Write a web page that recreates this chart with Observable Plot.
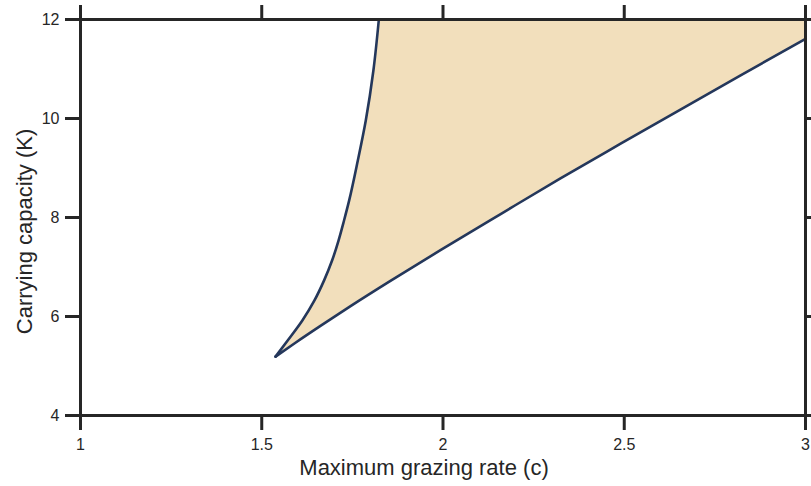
<!DOCTYPE html>
<html>
<head>
<meta charset="utf-8">
<script src="https://cdn.jsdelivr.net/npm/d3@7"></script>
<script src="https://cdn.jsdelivr.net/npm/@observablehq/plot@0.6"></script>
<style>
  html, body { margin: 0; padding: 0; background: #fff; }
</style>
</head>
<body>
<div id="chart"></div>
<script>
// Axis setup
const xDomain = [1, 3];
const yDomain = [4, 12];
const xTicks = [1, 1.5, 2, 2.5, 3];
const yTicks = [4, 6, 8, 10, 12];
const xLabel = "Maximum grazing rate (c)";
const yLabel = "Carrying capacity (K)";

// Upper (steep) fold branch: c, K
const upperC = [1.538, 1.572, 1.612, 1.645, 1.672, 1.694, 1.712, 1.727, 1.741, 1.765, 1.787, 1.808, 1.823];
const upperK = [5.19, 5.52, 5.92, 6.32, 6.73, 7.13, 7.54, 7.94, 8.34, 9.15, 9.96, 10.97, 12.0];

// Lower (shallow) fold branch: c, K
const lowerC = [1.538, 1.593, 1.662, 1.745, 1.855, 1.993, 2.159, 2.324, 2.490, 2.655, 2.821, 3.0];
const lowerK = [5.19, 5.47, 5.81, 6.21, 6.72, 7.34, 8.07, 8.79, 9.49, 10.18, 10.87, 11.61];

const upper = upperC.map((c, i) => ({c, K: upperK[i]}));
const lower = lowerC.map((c, i) => ({c, K: lowerK[i]}));
// Polygon of the bistable region (between branches, clipped by the top of the frame)
const region = [
  ...upper,
  {c: xDomain[1], K: yDomain[1]},
  ...lower.slice().reverse()
];

const ink = "#262626";
const lineColor = "#24375b";
const fillColor = "#f2dfbc";
const fmt = d => String(d);

const chart = Plot.plot({
  width: 811,
  height: 486,
  marginLeft: 80,
  marginRight: 6,
  marginTop: 19,
  marginBottom: 71,
  style: {fontFamily: "'Liberation Sans', Arial, Helvetica, sans-serif", fontSize: "16px", background: "#fff", color: ink},
  x: {domain: xDomain},
  y: {domain: yDomain},
  marks: [
    Plot.line(region, {x: "c", y: "K", fill: fillColor, stroke: "none", curve: "linear"}),
    Plot.line(upper, {x: "c", y: "K", stroke: lineColor, strokeWidth: 2.6, curve: "monotone-y", clip: true}),
    Plot.line(lower, {x: "c", y: "K", stroke: lineColor, strokeWidth: 2.6, curve: "monotone-x", clip: true}),
    Plot.frame({stroke: ink, strokeWidth: 3}),
    Plot.axisX({anchor: "bottom", ticks: xTicks, tickFormat: fmt, tickSize: 15, tickPadding: 8, strokeWidth: 3, stroke: ink, fill: ink, fontSize: 16, label: null}),
    Plot.axisX({anchor: "top", ticks: xTicks, tickFormat: () => "", tickSize: 15, strokeWidth: 3, stroke: ink, label: null}),
    Plot.axisY({anchor: "left", ticks: yTicks, tickFormat: fmt, tickSize: 15, tickPadding: 6, strokeWidth: 3, stroke: ink, fill: ink, fontSize: 16, label: null}),
    Plot.axisY({anchor: "right", ticks: yTicks, tickFormat: () => "", tickSize: 15, strokeWidth: 3, stroke: ink, label: null}),
    Plot.text([xLabel], {frameAnchor: "bottom", text: d => d, dy: 52, dx: -19, fontSize: 22, fill: ink, lineAnchor: "middle", textAnchor: "middle"}),
    Plot.text([yLabel], {frameAnchor: "left", text: d => d, rotate: -90, dx: -56, dy: 14, fontSize: 22, fill: ink, lineAnchor: "middle", textAnchor: "middle"})
  ]
});
document.getElementById("chart").appendChild(chart);
</script>
</body>
</html>
